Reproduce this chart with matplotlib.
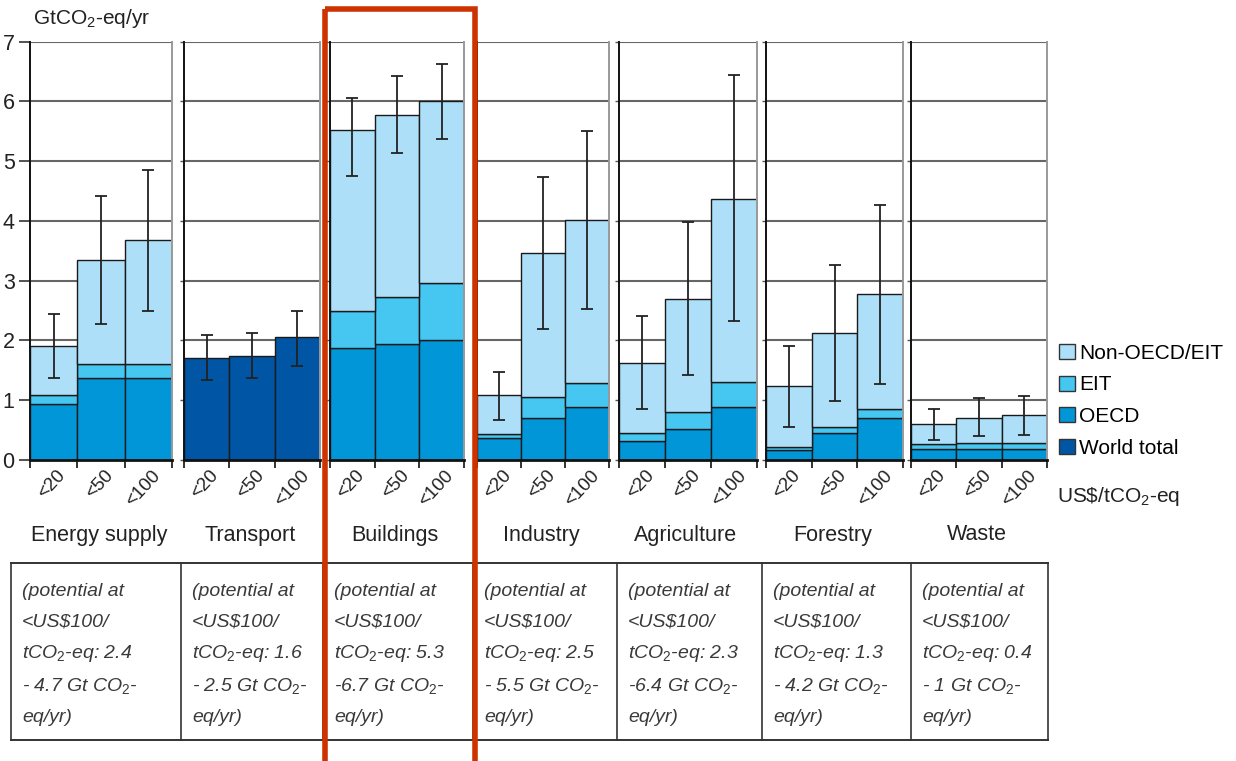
import matplotlib
matplotlib.use("Agg")
import matplotlib.pyplot as plt
import numpy as np
from matplotlib.patches import Patch, Rectangle
import matplotlib.transforms as mtransforms

plt.rcParams['font.family'] = ['Liberation Sans', 'DejaVu Sans']
plt.rcParams['mathtext.fontset'] = 'custom'
plt.rcParams['mathtext.rm'] = 'Liberation Sans'
plt.rcParams['mathtext.it'] = 'Liberation Sans:italic'

# ---------------- data ----------------
sectors = ["Energy supply", "Transport", "Buildings", "Industry",
           "Agriculture", "Forestry", "Waste"]
price_labels = ["<20", "<50", "<100"]

oecd = {
    "Energy supply": [0.93, 1.38, 1.38],
    "Buildings":     [1.87, 1.94, 2.01],
    "Industry":      [0.36, 0.71, 0.89],
    "Agriculture":   [0.31, 0.52, 0.88],
    "Forestry":      [0.17, 0.45, 0.70],
    "Waste":         [0.18, 0.18, 0.18],
}
eit = {
    "Energy supply": [0.15, 0.22, 0.22],
    "Buildings":     [0.62, 0.78, 0.96],
    "Industry":      [0.08, 0.34, 0.40],
    "Agriculture":   [0.15, 0.28, 0.43],
    "Forestry":      [0.05, 0.11, 0.16],
    "Waste":         [0.09, 0.10, 0.10],
}
non_oecd = {
    "Energy supply": [0.83, 1.75, 2.08],
    "Buildings":     [3.04, 3.05, 3.03],
    "Industry":      [0.65, 2.41, 2.73],
    "Agriculture":   [1.17, 1.89, 3.06],
    "Forestry":      [1.01, 1.57, 1.91],
    "Waste":         [0.33, 0.43, 0.47],
}
world_total = {"Transport": [1.71, 1.74, 2.05]}

err_low = {
    "Energy supply": [1.38, 2.28, 2.50],
    "Transport":     [1.34, 1.37, 1.58],
    "Buildings":     [4.76, 5.13, 5.38],
    "Industry":      [0.67, 2.19, 2.52],
    "Agriculture":   [0.85, 1.43, 2.32],
    "Forestry":      [0.56, 0.99, 1.27],
    "Waste":         [0.33, 0.40, 0.42],
}
err_high = {
    "Energy supply": [2.45, 4.42, 4.86],
    "Transport":     [2.10, 2.13, 2.50],
    "Buildings":     [6.05, 6.43, 6.63],
    "Industry":      [1.48, 4.73, 5.51],
    "Agriculture":   [2.41, 3.98, 6.45],
    "Forestry":      [1.90, 3.26, 4.26],
    "Waste":         [0.85, 1.03, 1.07],
}

potential_low = ["2.4", "1.6", "5.3", "2.5", "2.3", "1.3", "0.4"]
potential_high = ["- 4.7", "- 2.5", "-6.7", "- 5.5", "-6.4", "- 4.2", "- 1"]

yticks = [0, 1, 2, 3, 4, 5, 6, 7]
legend_labels = ["Non-OECD/EIT", "EIT", "OECD", "World total"]

# ---------------- styles / layout ----------------
C_NON = "#ADDFF8"
C_EIT = "#45C7F2"
C_OECD = "#0096D8"
C_WORLD = "#0055A5"
EDGE = "#1a1a1a"
GRID = "#666666"
RED = "#CC3300"

W, H = 1236, 761
fig = plt.figure(figsize=(W / 100, H / 100), dpi=100)

panel_x = [(30, 172), (184, 320), (330, 464), (477, 609),
           (619, 757), (766, 903), (911, 1047)]
y_top, y_bot = 41.7, 460

def rect(x0, x1):
    return [x0 / W, 1 - y_bot / H, (x1 - x0) / W, (y_bot - y_top) / H]

pos = np.arange(3)
for k, (sec, (x0, x1)) in enumerate(zip(sectors, panel_x)):
    ax = fig.add_axes(rect(x0, x1))
    ax.set_xlim(0, 3)
    ax.set_ylim(0, 7)
    for v in yticks[1:]:
        ax.axhline(v, color=GRID, lw=1.5, zorder=0.5)
    if sec in world_total:
        ax.bar(pos, world_total[sec], width=1, align='edge', color=C_WORLD,
               edgecolor=EDGE, lw=1.0, zorder=2)
    else:
        o = np.array(oecd[sec]); e = np.array(eit[sec]); n = np.array(non_oecd[sec])
        ax.bar(pos, o, width=1, align='edge', color=C_OECD, edgecolor=EDGE, lw=1.0, zorder=2)
        ax.bar(pos, e, bottom=o, width=1, align='edge', color=C_EIT, edgecolor=EDGE, lw=1.0, zorder=2)
        ax.bar(pos, n, bottom=o + e, width=1, align='edge', color=C_NON, edgecolor=EDGE, lw=1.0, zorder=2)
    lo = np.array(err_low[sec]); hi = np.array(err_high[sec])
    ax.errorbar(pos + 0.5, (lo + hi) / 2, yerr=(hi - lo) / 2, fmt='none',
                ecolor="#222222", elinewidth=1.3, capsize=4.5, capthick=1.3, zorder=3)

    ax.spines['top'].set_visible(False)
    ax.spines['left'].set_color('#111111'); ax.spines['left'].set_linewidth(1.4)
    ax.spines['right'].set_color('#999999'); ax.spines['right'].set_linewidth(1.4)
    ax.spines['bottom'].set_color('#111111'); ax.spines['bottom'].set_linewidth(2.0)
    for sp in ax.spines.values():
        sp.set_zorder(4)

    ax.set_xticks([0, 1, 2, 3])
    ax.set_xticklabels([])
    ax.tick_params(axis='x', direction='out', length=6, width=1.2, color='#111111')
    ax.set_yticks(yticks)
    if k == 0:
        ax.set_yticklabels([str(v) for v in yticks], fontsize=15.5, color='#222222')
        ax.tick_params(axis='y', direction='out', length=8, width=1.2, color='#333333', pad=3)
    else:
        ax.set_yticklabels([])
        ax.tick_params(axis='y', direction='out', length=3, width=1.0, color='#555555')

    trans = ax.get_xaxis_transform() + mtransforms.ScaledTranslation(3 / 100, -7 / 100, fig.dpi_scale_trans)
    for i, lab in enumerate(price_labels):
        ax.text(i + 0.5, 0, lab, transform=trans, rotation=47, ha='right', va='top',
                rotation_mode='anchor', fontsize=13.5, color='#222222')
    ax.text(0.5, 0, sec, transform=ax.transAxes + mtransforms.ScaledTranslation(-2 / 100, -75 / 100, fig.dpi_scale_trans),
            ha='center', va='center', fontsize=15.5, color='#222222')

# ---------------- overlay (labels, table, legend, red box) ----------------
ov = fig.add_axes([0, 0, 1, 1], zorder=10)
ov.set_xlim(0, W); ov.set_ylim(H, 0); ov.axis('off')
ov.patch.set_alpha(0)

ov.text(33, 19, "GtCO$_2$-eq/yr", fontsize=15, color='#222222', ha='left', va='center')
ov.text(1057, 496, "US\\$/tCO$_2$-eq", fontsize=15, color='#222222', ha='left', va='center')

handles = [Patch(facecolor=c, edgecolor='#333333', lw=1.0) for c in [C_NON, C_EIT, C_OECD, C_WORLD]]
fig.legend(handles, legend_labels, loc='upper left', bbox_to_anchor=(1059 / W, 1 - 344 / H),
           frameon=False, fontsize=15, handlelength=0.75, handleheight=0.75,
           handletextpad=0.2, labelspacing=0.6, borderpad=0, borderaxespad=0)

# table
tab_x = [11, 181, 323, 473, 617, 762, 911, 1048]
tab_top, tab_bot = 563, 740
ov.plot([tab_x[0], tab_x[-1]], [tab_top, tab_top], color='#333333', lw=1.4)
ov.plot([tab_x[0], tab_x[-1]], [tab_bot, tab_bot], color='#333333', lw=1.4)
for xv in tab_x:
    ov.plot([xv, xv], [tab_top, tab_bot], color='#333333', lw=1.2)
for j in range(len(sectors)):
    lines = ["(potential at", "<US\\$100/",
             "tCO$_\\mathit{2}$-eq: " + potential_low[j],
             potential_high[j] + " Gt CO$_\\mathit{2}$-", "eq/yr)"]
    for li, t in enumerate(lines):
        ov.text(tab_x[j] + 11, 591 + 31.5 * li, t, fontsize=14, style='italic',
                color='#3a3a3a', ha='left', va='center')

# red highlight box
ov.add_patch(Rectangle((324.5, 8.5), 150, 800, fill=False, edgecolor=RED, lw=4, zorder=20,
                       clip_on=False))

fig.savefig("out.png", dpi=100)
